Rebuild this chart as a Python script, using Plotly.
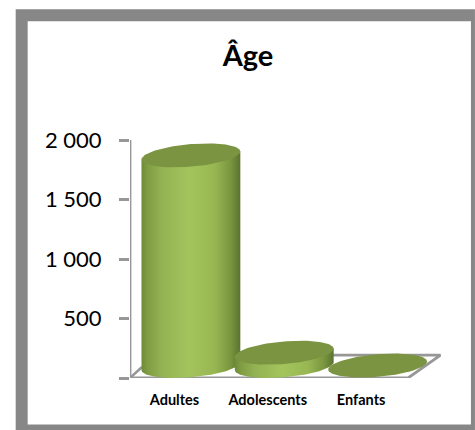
import numpy as np
import plotly.graph_objects as go

# --- data
title_text = "Âge"
categories = ["Adultes", "Adolescents", "Enfants"]
values = [1770, 112, 4]
y_ticks = [500, 1000, 1500, 2000]
y_tick_labels = ["500", "1 000", "1 500", "2 000"]

# --- canvas geometry (pixels)
W, H = 475, 430
L, R = 129.5, 441.0      # plot area left / right
T, B = 139.5, 378.0      # plot area top / bottom
STEP_PX = 93.5
X0_PX = 174.0            # pixel of first category label
X_RANGE = [(L - X0_PX) / STEP_PX, (R - X0_PX) / STEP_PX]
PX_Y = (B - T) / 2000.0  # pixels per unit

dx = lambda px: px / STEP_PX
dy = lambda px: px / PX_Y

CX_OFF = dx(16.5)        # depth shift of cylinder centres right of labels
BASE = dy(12.0)          # depth shift of cylinder base above axis zero
A = dx(49.5)             # ellipse semi-width
BB = dy(11.3)            # ellipse semi-height
SLOPE = dy(8.0) / dx(99.0)  # tilt of ellipses

GRID = "#979797"
BODY_SCALE = [[0, "#6f8a38"], [0.06, "#7f9c42"], [0.2, "#93b253"], [0.48, "#a3c45d"],
              [0.74, "#98b753"], [0.9, "#7a963f"], [1, "#5a7330"]]
TOP_COLOR = "#7a9441"

t = np.linspace(0, 2 * np.pi, 121)
fig = go.Figure()

# floor, in data units
fig.add_trace(go.Scatter(
    x=[X_RANGE[0], dx(408 - X0_PX), dx(440.5 - X0_PX), dx(333 - X0_PX)],
    y=[0, 0, dy(23), dy(23)],
    mode="lines", line=dict(color=GRID, width=2.8), hoverinfo="skip"))
fig.add_trace(go.Scatter(
    x=[X_RANGE[0], dx(141.5 - X0_PX)], y=[0, dy(11)],
    mode="lines", line=dict(color=GRID, width=2.5), hoverinfo="skip"))
fig.add_trace(go.Scatter(
    x=[X_RANGE[0], X_RANGE[0]], y=[0, 2000],
    mode="lines", line=dict(color=GRID, width=2.8), hoverinfo="skip"))

for i, v in enumerate(values):
    cx = i + CX_OFF
    top = BASE + v
    # cylinder body: lower half of base ellipse + the top edge
    th = np.linspace(0, np.pi, 61)
    bx = cx - A * np.cos(th)
    by = BASE + SLOPE * (bx - cx) - BB * np.sin(th)
    tx = cx + A * np.cos(th)
    ty = top + SLOPE * (tx - cx)
    if v > 20:
        fig.add_trace(go.Scatter(
            x=np.r_[bx, tx], y=np.r_[by, ty], mode="lines", fill="toself",
            line=dict(width=0, color="rgba(0,0,0,0)"),
            fillgradient=dict(type="horizontal", colorscale=BODY_SCALE),
            hoverinfo="skip"))
    # top ellipse
    ex = cx + A * np.cos(t)
    ey = top + SLOPE * (ex - cx) + BB * np.sin(t)
    fig.add_trace(go.Scatter(
        x=ex, y=ey, mode="lines", fill="toself", fillcolor=TOP_COLOR,
        line=dict(width=0, color="rgba(0,0,0,0)"), hoverinfo="skip"))

# frame rectangle in paper coordinates
pw, ph = R - L, B - T
pxx = lambda p: (p - L) / pw
pxy = lambda p: (B - p) / ph
def rect(x0, y0, x1, y1, color):
    return dict(type="rect", xref="paper", yref="paper", layer="below",
                x0=pxx(x0), x1=pxx(x1), y0=pxy(y1), y1=pxy(y0),
                fillcolor=color, line=dict(width=0))

fig.update_layout(
    width=W, height=H, showlegend=False, autosize=False,
    paper_bgcolor="white", plot_bgcolor="rgba(0,0,0,0)",
    margin=dict(l=L, r=W - R, t=T, b=H - B, pad=0),
    shapes=[rect(15, 8.5, 475, 430, "#878787"), rect(27, 20.5, 471, 424.5, "white")],
    title=dict(text=f"<b>{title_text}</b>", x=248 / W, xanchor="center",
               y=1 - 56 / H, yanchor="middle",
               font=dict(family="Lato", size=29, color="black")),
    xaxis=dict(range=X_RANGE, tickmode="array", tickvals=list(range(len(categories))),
               ticktext=[f"<b>{c}</b>" for c in categories],
               tickfont=dict(family="Lato", size=14.5, color="black"),
               showgrid=False, zeroline=False, showline=False, ticks="", ticklen=0,
               ticklabelstandoff=11),
    yaxis=dict(range=[0, 2000], tickmode="array", tickvals=[0] + y_ticks,
               ticktext=[""] + y_tick_labels,
               tickfont=dict(family="Lato", size=22, color="black"),
               showgrid=False, zeroline=False, showline=False,
               ticks="outside", ticklen=10, tickwidth=2.5, tickcolor=GRID,
               ticklabelstandoff=13),
)
fig.write_html("out.html", config={"displayModeBar": False},
               post_script="document.body.style.margin='0';document.body.style.overflow='hidden';")
